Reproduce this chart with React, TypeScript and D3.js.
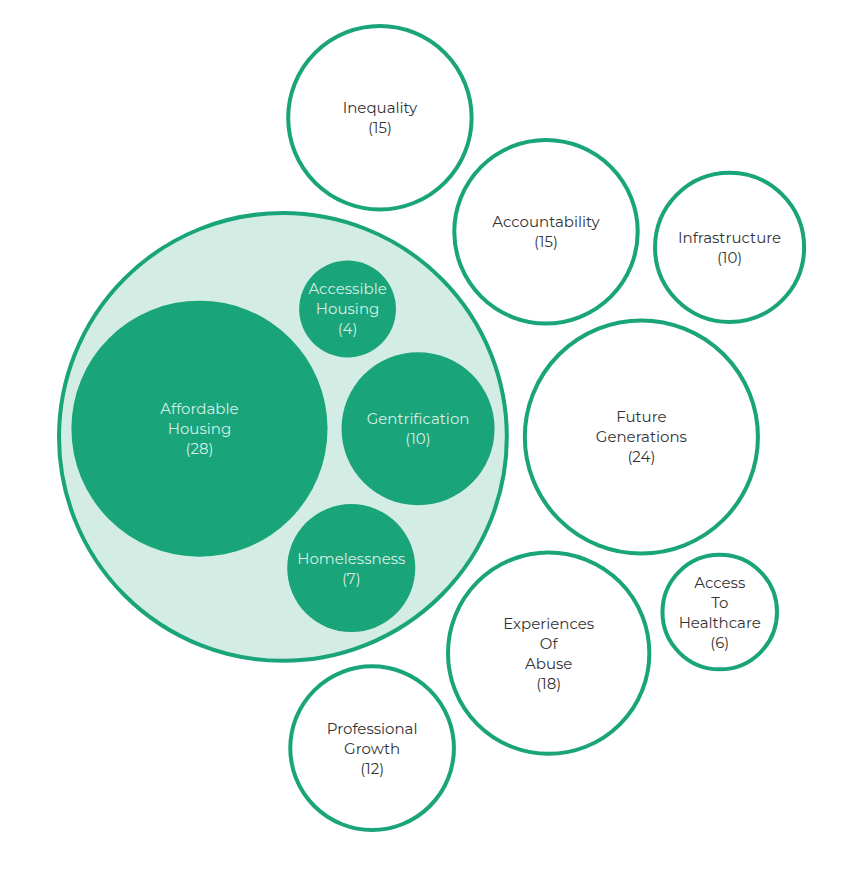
import React, { useEffect, useRef } from "react";
import * as d3 from "d3";

// top-level topics (Accountability before Inequality so the tie keeps its place)
const topics = [
  "Accountability",
  "Inequality",
  "Infrastructure",
  "Future Generations",
  "Access To Healthcare",
  "Experiences Of Abuse",
  "Professional Growth",
];
const topicCounts = [15, 15, 10, 24, 6, 18, 12];

// topics grouped under housing
const housingTopics = [
  "Affordable Housing",
  "Accessible Housing",
  "Gentrification",
  "Homelessness",
];
const housingCounts = [28, 4, 10, 7];

type Topic = { name: string; value?: number; children?: Topic[] };

function BubbleChart() {
  const ref = useRef<SVGSVGElement | null>(null);
  const width = 866;
  const height = 876;
  const green = "#1aa479";
  const mint = "#d3ede5";
  const strokeWidth = 4;
  const lineHeight = 20;

  useEffect(() => {
    const data: Topic = {
      name: "root",
      children: [
        {
          name: "Housing",
          children: housingTopics.map((name, i) => ({ name, value: housingCounts[i] })),
        },
        ...topics.map((name, i) => ({ name, value: topicCounts[i] })),
      ],
    };

    const root = d3
      .hierarchy(data)
      .sum((d) => d.value ?? 0)
      .sort((a, b) => (b.value ?? 0) - (a.value ?? 0));

    const k = 24.2;
    d3.pack<Topic>()
      .radius((d) => k * Math.sqrt(d.value ?? 0))
      .padding(14)(root);

    const packed = root as d3.HierarchyCircularNode<Topic>;
    const top = packed.children ?? [];
    const tx = 57 - (d3.min(top, (d) => d.x - d.r) as number);
    const ty = 24 - (d3.min(top, (d) => d.y - d.r) as number);

    const svg = d3.select(ref.current);
    svg.selectAll("*").remove();
    svg
      .attr("width", width)
      .attr("height", height)
      .attr("viewBox", [0, 0, width, height])
      .attr("style", "position:absolute;left:0;top:0;background:#fff;");

    const g = svg.append("g").attr("transform", `translate(${tx},${ty})`);

    const nodes = packed.descendants().slice(1);

    g.selectAll("circle")
      .data(nodes)
      .join("circle")
      .attr("cx", (d) => d.x)
      .attr("cy", (d) => d.y)
      .attr("r", (d) => (d.depth === 1 ? d.r - strokeWidth / 2 : d.r))
      .attr("fill", (d) => (d.depth === 2 ? green : d.children ? mint : "#fff"))
      .attr("stroke", (d) => (d.depth === 1 ? green : "none"))
      .attr("stroke-width", strokeWidth);

    const leaves = nodes.filter((d) => !d.children);

    const label = g
      .selectAll("text")
      .data(leaves)
      .join("text")
      .attr("text-anchor", "middle")
      .attr("font-family", "Montserrat, 'Open Sans', sans-serif")
      .attr("font-size", 15)
      .attr("fill", (d) => (d.depth === 2 ? "#d6efe6" : "#333"));

    label
      .selectAll("tspan")
      .data((d) => {
        const lines = [...d.data.name.split(" "), `(${d.value})`];
        return lines.map((text, i) => ({
          text,
          x: d.x,
          y: d.y + (i - (lines.length - 1) / 2) * lineHeight,
        }));
      })
      .join("tspan")
      .attr("x", (d) => d.x)
      .attr("y", (d) => d.y)
      .attr("dominant-baseline", "central")
      .text((d) => d.text);
  }, []);

  return <svg ref={ref}></svg>;
}

export default function App() {
  return <BubbleChart />;
}
